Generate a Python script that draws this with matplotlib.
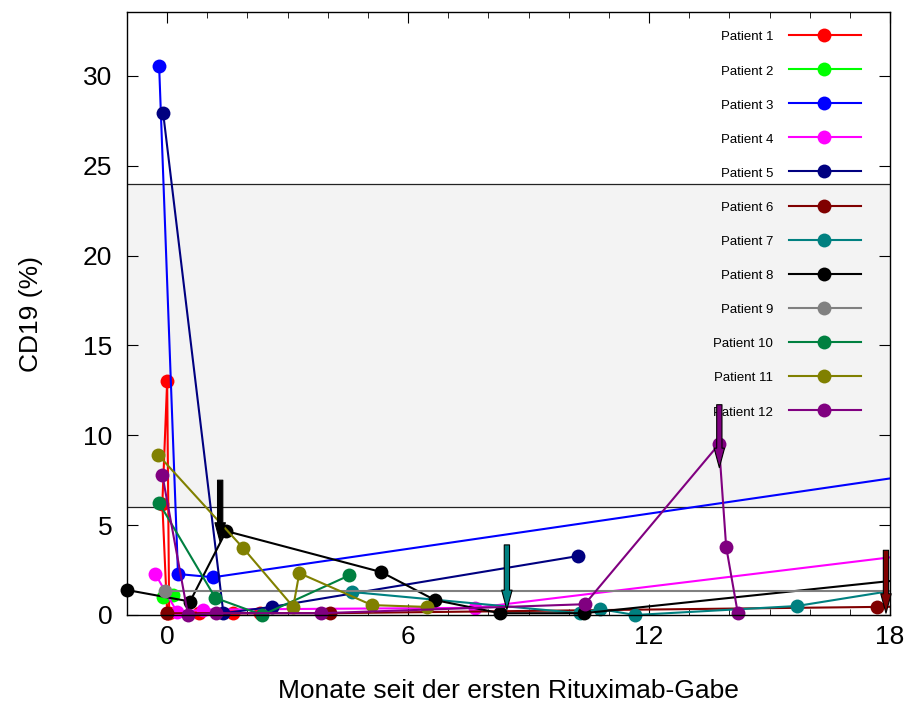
import numpy as np
import matplotlib
matplotlib.use('Agg')
from matplotlib import pyplot as plt
from matplotlib.patches import FancyArrowPatch

plt.rcParams['font.family'] = ['Liberation Sans', 'DejaVu Sans']

labels = ['Patient %d' % i for i in range(1, 13)]
colors = ['#ff0000', '#00ff00', '#0000ff', '#ff00ff', '#000080', '#800000',
          '#008080', '#000000', '#808080', '#008040', '#808000', '#800080']

# months since first rituximab dose / CD19 (%)
p1_t = [0.0, -0.12, 0.0, 0.05, 0.8, 1.65, 2.3]
p1_v = [0.1, 6.2, 13.0, 0.1, 0.1, 0.1, 0.1]
p2_t = [-0.1, 0.15]
p2_v = [1.0, 1.1]
p3_t = [-0.2, 0.27, 1.15, 20.0]
p3_v = [30.55, 2.28, 2.1, 8.25]
p4_t = [-0.3, 0.25, 0.9, 7.67, 20.0]
p4_v = [2.3, 0.15, 0.3, 0.4, 3.75]
p5_t = [-0.1, 1.4, 2.6, 10.23]
p5_v = [27.93, 0.1, 0.45, 3.28]
p6_t = [0.0, 4.06, 17.67, 20.0]
p6_v = [0.1, 0.1, 0.45, 0.5]
p7_t = [4.6, 10.28, 10.78, 11.65, 15.68, 20.0]
p7_v = [1.28, 0.1, 0.33, 0.0, 0.5, 2.05]
p8_t = [-1.0, 0.57, 1.47, 5.33, 6.67, 8.29, 10.38, 20.0]
p8_v = [1.39, 0.75, 4.67, 2.39, 0.83, 0.1, 0.1, 2.36]
p9_t = [-0.05, 20.0]
p9_v = [1.33, 1.33]
p10_t = [-0.2, 1.2, 2.37, 4.53]
p10_v = [6.23, 0.95, 0.0, 2.2]
p11_t = [-0.22, 1.89, 3.14, 3.29, 5.1, 6.47]
p11_v = [8.9, 3.73, 0.45, 2.33, 0.55, 0.45]
p12_t = [-0.12, 0.52, 1.22, 3.83, 10.4, 13.74, 13.92, 14.21]
p12_v = [7.8, 0.0, 0.1, 0.1, 0.6, 9.5, 3.8, 0.1]

all_t = [p1_t, p2_t, p3_t, p4_t, p5_t, p6_t, p7_t, p8_t, p9_t, p10_t, p11_t, p12_t]
all_v = [p1_v, p2_v, p3_v, p4_v, p5_v, p6_v, p7_v, p8_v, p9_v, p10_v, p11_v, p12_v]

# arrows (treatment marks)
arrow_t = [1.32, 8.46, 13.75, 17.9]
arrow_top = [7.5, 3.9, 11.7, 3.6]
arrow_tip = [4.05, 0.3, 8.2, 0.1]
arrow_col = ['#000000', '#008080', '#800080', '#800000']

# normal range
band_lo, band_hi = 6, 24

xmin, xmax = -1, 18
ymin, ymax = 0, 33.55

fig = plt.figure(figsize=(9.08, 7.06), dpi=100)
ax = fig.add_axes([127/908, 1 - 615/706, 763/908, 603/706])

ax.axhspan(band_lo, band_hi, color='#f3f3f3', zorder=0, lw=0)
ax.axhline(band_lo, color='#222222', lw=0.9, zorder=1)
ax.axhline(band_hi, color='#222222', lw=0.9, zorder=1)

for i, (t, v) in enumerate(zip(all_t, all_v)):
    t = np.array(t); v = np.array(v)
    z = 2 + i * 0.01
    ax.plot(t, v, color=colors[i], lw=1.5, zorder=z)
    m = (t >= xmin) & (t <= xmax)
    ax.plot(t[m], v[m], 'o', color=colors[i], ms=10, mew=0, zorder=z,
            clip_on=False)

# manual legend: text right aligned, sample to the right
for i in range(12):
    yy = (615 - (35 + 34.1 * i)) / 603
    ax.plot([0.8676, 0.962], [yy, yy], color=colors[i], lw=1.5,
            transform=ax.transAxes, zorder=4)
    ax.plot([0.9135], [yy], 'o', color=colors[i], ms=10, mew=0,
            transform=ax.transAxes, zorder=4)
    ax.text(0.8467, yy - 0.004, labels[i], ha='right', va='center',
            fontsize=9.5, transform=ax.transAxes, zorder=4)

for x, top, tip, c in zip(arrow_t, arrow_top, arrow_tip, arrow_col):
    arr = FancyArrowPatch((x, top), (x, tip),
                          arrowstyle='simple,head_length=1.4,head_width=0.75,tail_width=0.38',
                          mutation_scale=10, fc=c, ec='black', lw=0.8,
                          shrinkA=0, shrinkB=0, zorder=5, clip_on=False)
    ax.add_patch(arr)

ax.set_xlim(xmin, xmax)
ax.set_ylim(ymin, ymax)
ax.set_xticks([0, 6, 12, 18])
ax.set_xticks(np.arange(-1, 19), minor=True)
ax.set_yticks(np.arange(0, 31, 5))
ax.tick_params(which='both', direction='in', top=True, right=True, labelsize=19)
ax.tick_params(axis='x', which='major', length=8, pad=7.5)
ax.tick_params(axis='x', which='minor', length=4)
ax.tick_params(axis='y', which='major', length=8, pad=10.5)
for s in ax.spines.values():
    s.set_linewidth(1.0)

ax.set_xlabel('Monate seit der ersten Rituximab-Gabe', fontsize=19)
ax.set_ylabel('CD19 (%)', fontsize=19)
ax.xaxis.set_label_coords(0.5, -0.106)
ax.yaxis.set_label_coords(-0.110, 0.5)

fig.savefig('out.png', dpi=100)
